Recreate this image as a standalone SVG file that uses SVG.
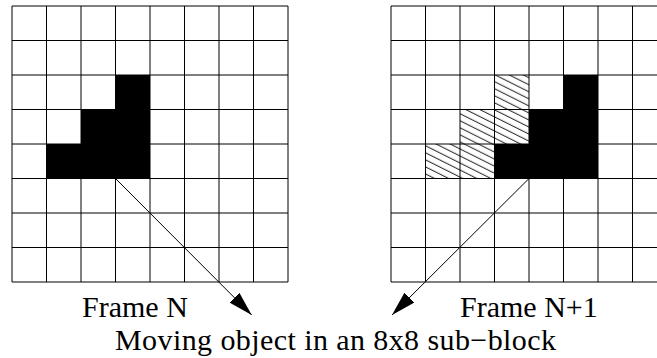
<svg xmlns="http://www.w3.org/2000/svg" width="657" height="358" viewBox="0 0 657 358">
  <style>
    .grid { stroke: #000; stroke-width: 1; fill: none; }
    .obj { fill: #000; stroke: none; }
    .hatch { fill: url(#hatch); stroke: none; }
    .conn { stroke: #000; stroke-width: 1; fill: none; marker-end: url(#arrow); }
    .label { font-family: "Liberation Serif", "Times New Roman", serif; font-size: 30px; fill: #000; }
  </style>
  <defs>
    <pattern id="hatch" patternUnits="userSpaceOnUse" width="10" height="6.3" patternTransform="rotate(26.57)">
      <line x1="0" y1="3" x2="10" y2="3" stroke="#000" stroke-width="0.9"/>
    </pattern>
    <marker id="arrow" markerUnits="userSpaceOnUse" markerWidth="26" markerHeight="16" refX="24.5" refY="7" orient="auto">
      <path d="M0,0 L24.5,7 L0,14 Z" fill="#000"/>
    </marker>
  </defs>
  <rect width="657" height="358" fill="#fff"/>

  <g id="frame-n">
    <path class="obj" d="M115.5,75 H150 V178.5 H46.5 V144 H81 V109.5 H115.5 Z"/>
    <path class="grid" d="M12,6 V282 M46.5,6 V282 M81,6 V282 M115.5,6 V282 M150,6 V282 M184.5,6 V282 M219,6 V282 M253.5,6 V282 M288,6 V282
      M12,6 H288 M12,40.5 H288 M12,75 H288 M12,109.5 H288 M12,144 H288 M12,178.5 H288 M12,213 H288 M12,247.5 H288 M12,282 H288"/>
  </g>

  <g id="frame-n1">
    <path class="hatch" d="M494.5,75 H529 V144 H494.5 V178.5 H425.5 V144 H460 V109.5 H494.5 Z"/>
    <path class="obj" d="M563.5,75 H598 V178.5 H494.5 V144 H529 V109.5 H563.5 Z"/>
    <path class="grid" d="M391,6 V282 M425.5,6 V282 M460,6 V282 M494.5,6 V282 M529,6 V282 M563.5,6 V282 M598,6 V282 M632.5,6 V282 M667,6 V282
      M391,6 H667 M391,40.5 H667 M391,75 H667 M391,109.5 H667 M391,144 H667 M391,178.5 H667 M391,213 H667 M391,247.5 H667 M391,282 H667"/>
  </g>

  <g id="connectors">
    <line class="conn" x1="115.5" y1="178.5" x2="251.7" y2="315"/>
    <line class="conn" x1="529" y1="178.5" x2="392" y2="315"/>
  </g>

  <g id="labels">
    <text class="label" x="82" y="316.5">Frame N</text>
    <text class="label" x="460" y="316.5">Frame N+1</text>
    <text class="label" x="115" y="350" textLength="441" lengthAdjust="spacing">Moving object in an 8x8 sub−block</text>
  </g>
</svg>
